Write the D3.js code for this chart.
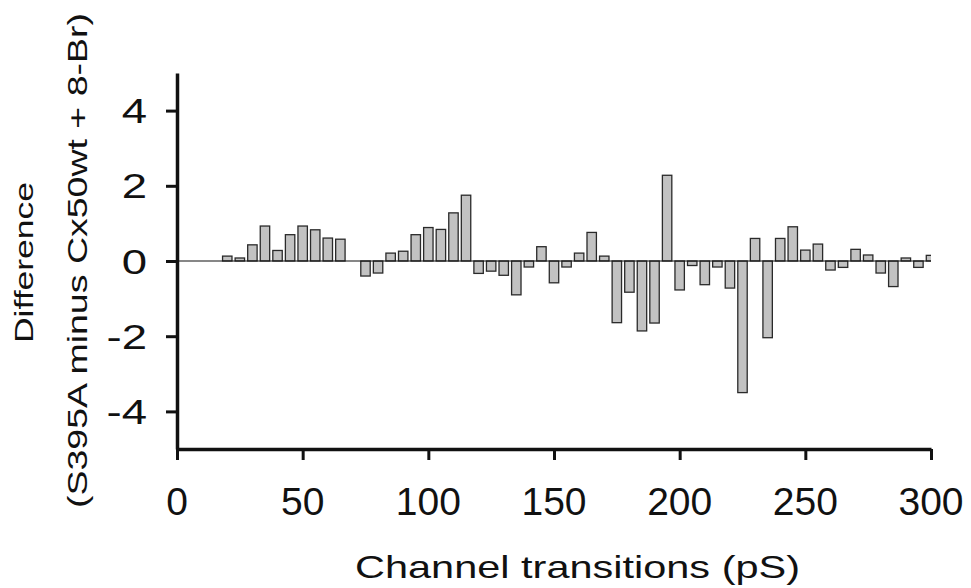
<!DOCTYPE html>
<html>
<head>
<meta charset="utf-8">
<script src="https://cdn.jsdelivr.net/npm/d3@7"></script>
<style>
  body { margin: 0; background: #fff; }
  svg { display: block; font-family: "Liberation Sans", Arial, sans-serif; }
</style>
</head>
<body>
<svg id="chart" width="971" height="588"></svg>
<script>
// channel transition bins (pS); bin 70 has no bar
const transitions = [20, 25, 30, 35, 40, 45, 50, 55, 60, 65,
  75, 80, 85, 90, 95, 100, 105, 110, 115, 120,
  125, 130, 135, 140, 145, 150, 155, 160, 165, 170,
  175, 180, 185, 190, 195, 200, 205, 210, 215, 220,
  225, 230, 235, 240, 245, 250, 255, 260, 265, 270,
  275, 280, 285, 290, 295, 300];

// difference, S395A minus Cx50wt + 8-Br
const differences = [0.13, 0.08, 0.43, 0.93, 0.28, 0.70, 0.93, 0.83, 0.61, 0.58,
  -0.40, -0.32, 0.21, 0.26, 0.70, 0.89, 0.84, 1.28, 1.75, -0.33,
  -0.27, -0.38, -0.90, -0.16, 0.38, -0.58, -0.16, 0.21, 0.76, 0.13,
  -1.64, -0.83, -1.86, -1.65, 2.28, -0.77, -0.12, -0.63, -0.16, -0.72,
  -3.50, 0.60, -2.04, 0.60, 0.91, 0.29, 0.45, -0.24, -0.17, 0.31,
  0.16, -0.32, -0.68, 0.08, -0.17, 0.15];

const xTicks = [0, 50, 100, 150, 200, 250, 300];
const yTicks = [-4, -2, 0, 2, 4];

const xLabel = "Channel transitions (pS)";
const yLabel1 = "Difference";
const yLabel2 = "(S395A minus Cx50wt + 8-Br)";

const data = transitions.map((t, i) => ({ t, v: differences[i] }));

const svg = d3.select("#chart");
const x = d3.scaleLinear().domain([0, 300]).range([177, 931]);
const y = d3.scaleLinear().domain([-5, 5]).range([449, 73]);
const barW = (x(5) - x(0)) * 0.75;

svg.append("defs").append("clipPath").attr("id", "plot-clip")
  .append("rect")
  .attr("x", x(0)).attr("y", y(5))
  .attr("width", x(300) - x(0)).attr("height", y(-5) - y(5));

// bars
svg.append("g")
  .attr("clip-path", "url(#plot-clip)")
  .selectAll("rect")
  .data(data)
  .join("rect")
  .attr("x", d => x(d.t) - barW / 2)
  .attr("y", d => y(Math.max(0, d.v)))
  .attr("width", barW)
  .attr("height", d => Math.abs(y(d.v) - y(0)))
  .attr("fill", "#c2c2c2")
  .attr("stroke", "#2a2a2a")
  .attr("stroke-width", 1.3);

// zero line
svg.append("line")
  .attr("x1", x(0)).attr("x2", x(300))
  .attr("y1", y(0)).attr("y2", y(0))
  .attr("stroke", "#111")
  .attr("stroke-width", 1.2);

// y axis
const yAxis = svg.append("g")
  .attr("transform", `translate(${x(0)},0)`)
  .call(d3.axisLeft(y).tickValues(yTicks).tickSize(11).tickSizeOuter(0).tickFormat(""));
yAxis.select(".domain").attr("stroke", "#111").attr("stroke-width", 3.5);
yAxis.selectAll(".tick line").attr("stroke", "#111").attr("stroke-width", 3);

svg.append("g")
  .selectAll("text")
  .data(yTicks)
  .join("text")
  .attr("transform", d => `translate(147,${y(d) + 12.5}) scale(1.3,1)`)
  .attr("text-anchor", "end")
  .attr("font-size", 35)
  .attr("fill", "#111")
  .text(d => d);

// x axis
const xAxis = svg.append("g")
  .attr("transform", `translate(0,${y(-5)})`)
  .call(d3.axisBottom(x).tickValues(xTicks).tickSize(11).tickSizeOuter(0).tickFormat(""));
xAxis.select(".domain").attr("stroke", "#111").attr("stroke-width", 3.5);
xAxis.selectAll(".tick line").attr("stroke", "#111").attr("stroke-width", 3);

svg.append("g")
  .selectAll("text")
  .data(xTicks)
  .join("text")
  .attr("x", d => x(d))
  .attr("y", 515)
  .attr("text-anchor", "middle")
  .attr("font-size", 39)
  .attr("fill", "#111")
  .text(d => d);

// axis titles
svg.append("text")
  .attr("x", 355).attr("y", 578)
  .attr("font-size", 32)
  .attr("fill", "#111")
  .attr("textLength", 445)
  .attr("lengthAdjust", "spacingAndGlyphs")
  .text(xLabel);

svg.append("text")
  .attr("transform", "translate(33,343) rotate(-90)")
  .attr("font-size", 26)
  .attr("fill", "#111")
  .attr("textLength", 161)
  .attr("lengthAdjust", "spacingAndGlyphs")
  .text(yLabel1);

svg.append("text")
  .attr("transform", "translate(87,508) rotate(-90)")
  .attr("font-size", 28)
  .attr("fill", "#111")
  .attr("textLength", 495)
  .attr("lengthAdjust", "spacingAndGlyphs")
  .text(yLabel2);
</script>
</body>
</html>
